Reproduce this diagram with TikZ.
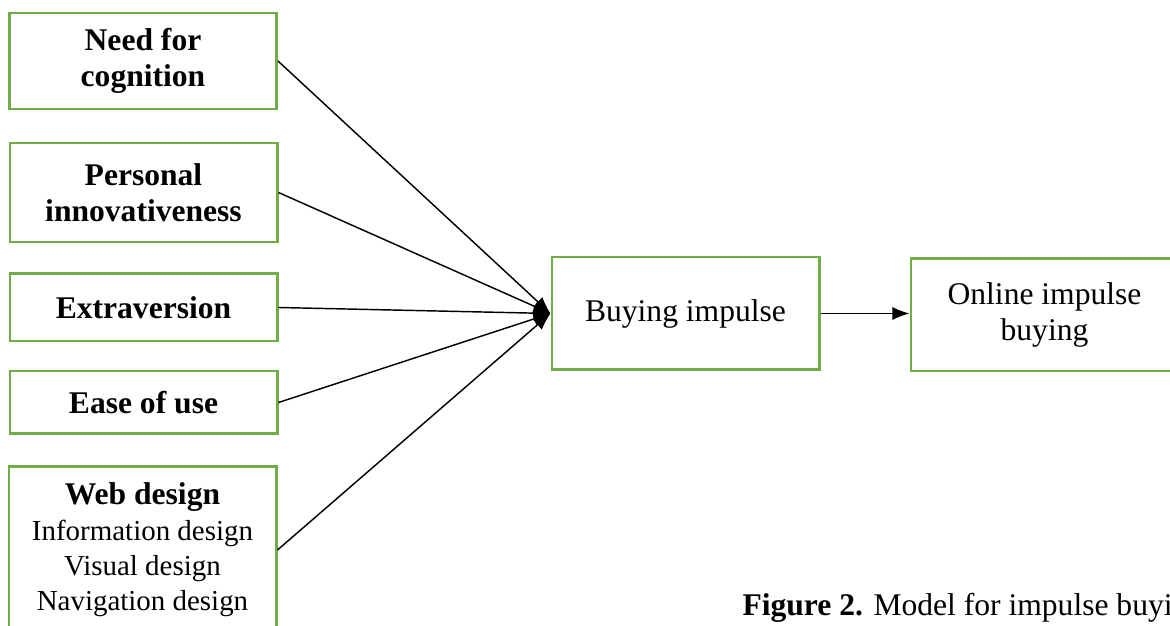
\documentclass[tikz,border=0pt]{standalone}
\usepackage{fontspec}
\setmainfont{Liberation Serif}
\usetikzlibrary{arrows.meta,positioning}
\definecolor{boxgreen}{RGB}{112,173,71}

\begin{document}
\begin{tikzpicture}[x=0.38pt,y=-0.38pt,blk/.style={draw=boxgreen,line width=1.1pt,align=center,minimum width=101.5pt,inner sep=2pt,font=\fontsize{12}{13.8}\selectfont},bld/.style={blk,font=\fontsize{12}{13.8}\selectfont\bfseries},lnk/.style={-{Latex[length=6.5pt,width=5pt]},line width=0.55pt}]
  \useasboundingbox (0,0) rectangle (1170,626);
  \node[bld,minimum height=36.5pt] (need) at (143,61) {Need for\\cognition};
  \node[bld,minimum height=37.6pt] (innov) at (143.5,192.5) {Personal\\innovativeness};
  \node[bld,minimum height=25.5pt] (extra) at (143.5,307.5) {Extraversion};
  \node[bld,minimum height=23.9pt] (ease) at (143.5,402.5) {Ease of use};
  \node[blk,minimum height=63.8pt,font=\fontsize{11}{13.4}\selectfont] (web) at (142.5,550) {{\fontsize{12}{13.4}\selectfont\bfseries Web design}\\Information design\\Visual design\\Navigation design};

  \node[blk,minimum height=42.9pt] (buy) at (685.5,313.5) {Buying impulse};
  \node[blk,minimum height=42.6pt] (online) at (1044.5,315) {Online impulse\\buying};

  \draw[lnk] (need.east) -- (buy.west);
  \draw[lnk] (innov.east) -- (buy.west);
  \draw[lnk] (extra.east) -- (buy.west);
  \draw[lnk] (ease.east) -- (buy.west);
  \draw[lnk] (web.east) -- (buy.west);
  \draw[lnk] (buy.east) -- (buy.east -| online.west);

  \node[anchor=base west,inner sep=0pt,font=\fontsize{12}{13.8}\selectfont] (caption) at (742,615) {\textbf{Figure 2.} Model for impulse buying};
 \end{tikzpicture}
\end{document}
